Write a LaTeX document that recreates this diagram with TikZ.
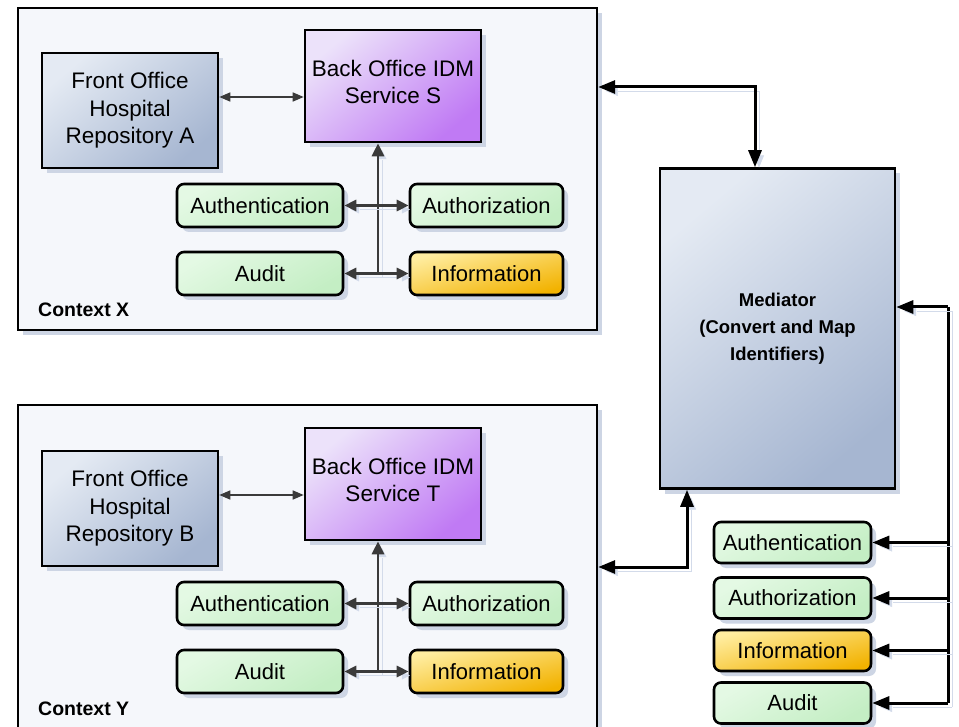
\documentclass[tikz,border=0pt]{standalone}
\usepackage{fontspec}
\setmainfont{Liberation Sans}
\usetikzlibrary{arrows.meta,shadows,calc}

\definecolor{ctxfill}{HTML}{F5F7FB}
\definecolor{boxshadow}{HTML}{CDD5E4}
\definecolor{lshadow}{HTML}{D3DBEA}
\definecolor{bluelight}{HTML}{E4EAF3}
\definecolor{bluedark}{HTML}{A6B6D1}
\definecolor{purplelight}{HTML}{ECE2FA}
\definecolor{purpledark}{HTML}{C07AF4}
\definecolor{greenlight}{HTML}{E4F9E4}
\definecolor{greendark}{HTML}{C4EEC4}
\definecolor{yellowlight}{HTML}{FFEDA0}
\definecolor{yellowdark}{HTML}{F2B200}
\definecolor{innerline}{HTML}{3A3A3A}

\begin{document}
\begin{tikzpicture}[x=1pt,y=-1pt,
  shadowed/.style={drop shadow={shadow xshift=5pt,shadow yshift=-5pt,fill=boxshadow,opacity=1}},
  ctx/.style={draw=black,line width=2.4pt,fill=ctxfill,shadowed},
  base/.style={draw=black,line width=2.6pt,inner sep=0pt,align=center,
    font=\fontsize{22.5}{27.5}\selectfont,shadowed},
  bluebox/.style={base,top color=bluelight,bottom color=bluedark,shading angle=40},
  purplebox/.style={base,top color=purplelight,bottom color=purpledark,shading angle=40},
  greenbox/.style={base,rounded corners=7pt,top color=greenlight,bottom color=greendark,
    shading angle=30,font=\fontsize{22}{25}\selectfont},
  yellowbox/.style={base,rounded corners=7pt,top color=yellowlight,bottom color=yellowdark,
    shading angle=15,font=\fontsize{22}{25}\selectfont},
  lbl/.style={inner sep=0pt,font=\bfseries\fontsize{19.5}{22}\selectfont},
  lineshadow/.style={preaction={draw=lshadow,transform canvas={xshift=4pt,yshift=-4pt}}},
  inner/.style={draw=innerline,line width=2.8pt,lineshadow,
    {Triangle[length=12pt,width=11pt]}-{Triangle[length=12pt,width=11pt]}},
  innerup/.style={draw=innerline,line width=2.8pt,lineshadow,-{Triangle[length=13pt,width=12pt]}},
  thin/.style={draw=innerline,line width=1.6pt,
    {Triangle[length=11pt,width=9pt]}-{Triangle[length=11pt,width=9pt]}},
  extboth/.style={draw=black,line width=3pt,lineshadow,
    {Triangle[length=17pt,width=13pt]}-{Triangle[length=17pt,width=13pt]}},
  extone/.style={draw=black,line width=3pt,lineshadow,-{Triangle[length=17pt,width=13pt]}},
  extline/.style={draw=black,line width=3pt,lineshadow}
]
\useasboundingbox (0,0) rectangle (959,727);
\clip (0,0) rectangle (959,727);
\fill[white] (0,0) rectangle (959,727);

% the two contexts, each with its repository, IDM service and modules
\foreach \s/\dy/\rep/\svc/\h/\cy in {X/0/A/S/322/169, Y/398/B/T/340/575}{
  \node[ctx,minimum width=579pt,minimum height=\h pt] (ctx\s) at (307.5,\cy) {};
  \node[lbl,anchor=base west] (lbl\s) at (38,317+\dy) {Context \s};
  \node[bluebox,minimum width=176pt,minimum height=115pt] (fo\s) at (130,110.5+\dy)
    {Front Office\\Hospital\\Repository \rep};
  \node[purplebox,minimum width=176pt,minimum height=112pt] (bo\s) at (393,86+\dy)
    {Back Office IDM\\Service \svc\\[-19.5pt]\mbox{}};
  \node[greenbox,minimum width=166pt,minimum height=43pt] (auth\s) at (260,205.5+\dy) {Authentication};
  \node[greenbox,minimum width=153pt,minimum height=43pt] (authz\s) at (486.5,205.5+\dy) {Authorization};
  \node[greenbox,minimum width=166pt,minimum height=43pt] (audit\s) at (260,273.5+\dy) {Audit};
  \node[yellowbox,minimum width=153pt,minimum height=43pt] (info\s) at (486.5,273.5+\dy) {Information};
  \coordinate (row\s) at (0,97+\dy);
  \coordinate (stem\s) at (378,273.5+\dy);
  \draw[thin] (fo\s.east |- row\s) -- (bo\s.west |- row\s);
  \draw[innerup] (stem\s) -- (stem\s |- bo\s.south);
  \draw[inner] (auth\s.east) -- (authz\s.west);
  \draw[inner] (audit\s.east) -- (info\s.west);
}

% the mediator and its own modules
\node[bluebox,font=\bfseries\fontsize{18.5}{27}\selectfont,minimum width=235pt,minimum height=320pt]
  (med) at (777.5,328.5) {Mediator\\(Convert and Map\\Identifiers)};
\node[greenbox,minimum width=157pt,minimum height=41pt] (mauth) at (792.5,542.5) {Authentication};
\node[greenbox,minimum width=157pt,minimum height=41pt] (mauthz) at (792.5,598) {Authorization};
\node[yellowbox,minimum width=157pt,minimum height=41pt] (minfo) at (792.5,650.5) {Information};
\node[greenbox,minimum width=157pt,minimum height=41pt] (maudit) at (792.5,703) {Audit};

% links between the contexts and the mediator
\coordinate (topbend) at (755,87);
\coordinate (botbend) at (687,567);
\draw[extboth] (ctxX.east |- topbend) -| (med.north -| topbend);
\draw[extboth] (ctxY.east |- botbend) -| (med.south -| botbend);

% bus feeding the mediator modules
\coordinate (busTop) at (948,307);
\coordinate (busBot) at (busTop |- maudit.east);
\draw[extline] (busTop) -- (busBot);
\draw[extone] (busTop) -- (med.east |- busTop);
\foreach \m in {mauth,mauthz,minfo,maudit}
  \draw[extone] (\m.east -| busTop) -- (\m.east);
\end{tikzpicture}
\end{document}
